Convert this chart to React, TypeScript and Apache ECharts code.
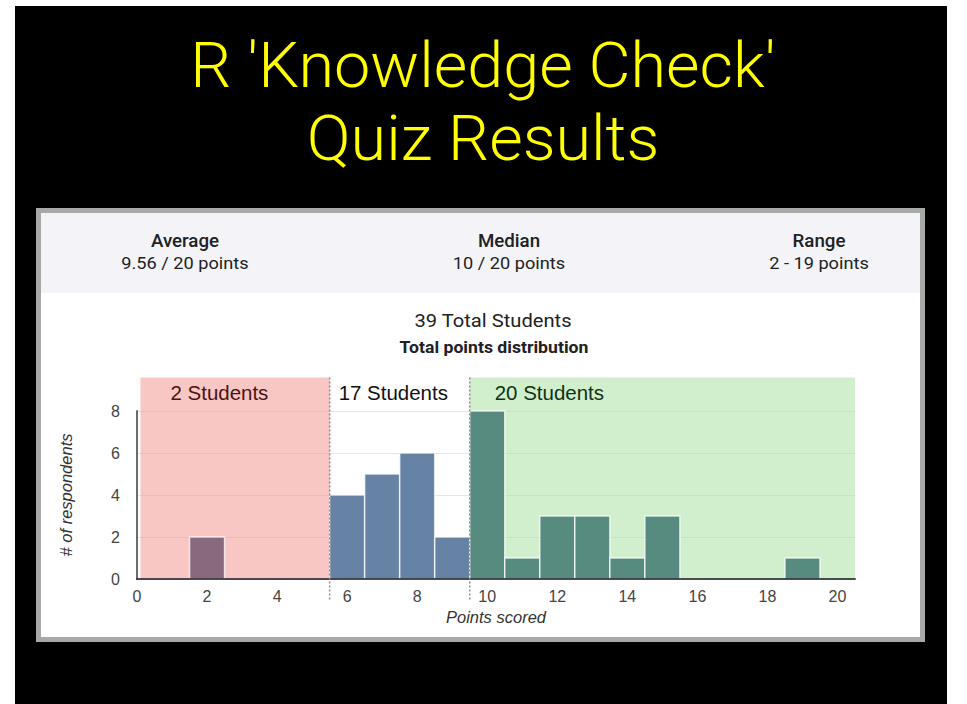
import React, { useEffect, useRef } from 'react';
import * as echarts from 'echarts';

// ---- data ----
const titleLines = ["R 'Knowledge Check'", 'Quiz Results'];
const statLabels = ['Average', 'Median', 'Range'];
const statValues = ['9.56 / 20 points', '10 / 20 points', '2 - 19 points'];
const chartTitle = '39 Total Students';
const chartSubtitle = 'Total points distribution';
const xAxisName = 'Points scored';
const yAxisName = '# of respondents';

const scores = [2, 6, 7, 8, 9, 10, 11, 12, 13, 14, 15, 19];
const counts = [2, 4, 5, 6, 2, 8, 1, 3, 3, 1, 3, 1];

const bandStarts = [0.1, 5.5, 9.5];
const bandEnds = [5.5, 9.5, 20.5];
const bandLabels = ['2 Students', '17 Students', '20 Students'];
const bandTop = 9.6;
const dividerXs = [5.5, 9.5];
const dividerBottom = -1;

const xMin = 0;
const xMax = 20.5;
const xInterval = 2;
const yMin = 0;
const yMax = 8;
const yInterval = 2;

// ---- styles ----
const bandFills = ['rgba(241,141,135,0.5)', 'rgba(255,255,255,0)', 'rgba(163,221,155,0.5)'];
const bandTextColors = ['#4a1414', '#111111', '#0f3312'];
const bandTextPad = [30, 9, 25];
const barColors = ['#886a7e', '#6683a6', '#578b80'];
const chartFont = '"Liberation Sans", Arial, sans-serif';
const headFont = 'Roboto, "Liberation Sans", sans-serif';
const SX = 1.07;

function groupOf(s: number) {
  return bandStarts.findIndex((b, k) => s >= b && s < bandEnds[k]);
}

function txt(text: string, x: number, y: number, size: number, weight: any, color: string, family: string, scaleX = 1) {
  return {
    type: 'text',
    x,
    y,
    scaleX,
    z: 10,
    silent: true,
    style: {
      text,
      fill: color,
      fontSize: size,
      fontWeight: weight,
      fontFamily: family,
      align: 'center',
      verticalAlign: 'middle',
      textAlign: 'center',
      textVerticalAlign: 'middle',
    },
  };
}

export default function App() {
  const ref = useRef<HTMLDivElement>(null);
  useEffect(() => {
    if (!ref.current) return;
    const chart = echarts.init(ref.current, undefined, { renderer: 'svg' });
    const statX = [185, 509, 819];
    const graphics: any[] = [
      { type: 'rect', z: -10, silent: true, shape: { x: 15, y: 6, width: 932, height: 698 }, style: { fill: '#000' } },
      { type: 'rect', z: -9, silent: true, shape: { x: 36, y: 208, width: 889, height: 434 }, style: { fill: '#a6a9a6' } },
      { type: 'rect', z: -8, silent: true, shape: { x: 41, y: 213, width: 879, height: 424 }, style: { fill: '#ffffff' } },
      { type: 'rect', z: -7, silent: true, shape: { x: 41, y: 213, width: 879, height: 80 }, style: { fill: '#f4f4f8' } },
      txt(titleLines[0], 483, 66, 63.5, 300, '#ffff00', headFont, 1.02),
      txt(titleLines[1], 483, 139, 63.5, 300, '#ffff00', headFont, 1.02),
      txt(chartTitle, 493, 321, 18.5, 'normal', '#202124', headFont, 1.09),
      txt(chartSubtitle, 494, 347, 16.5, 'bold', '#202124', headFont, SX),
    ];
    statLabels.forEach((l, i) => {
      graphics.push(txt(l, statX[i], 241, 17.5, 500, '#202124', headFont, SX));
      graphics.push(txt(statValues[i], statX[i], 263, 17, 'normal', '#202124', headFont, SX));
    });

    const option: any = {
      animation: false,
      backgroundColor: '#ffffff',
      graphic: graphics,
      grid: { left: 137, right: 112, top: 411, bottom: 125, containLabel: false, outerBoundsMode: 'none' },
      xAxis: {
        type: 'value',
        min: xMin,
        max: xMax,
        interval: xInterval,
        z: 5,
        name: xAxisName,
        nameLocation: 'middle',
        nameGap: 29,
        nameTextStyle: { fontStyle: 'italic', fontSize: 16.5, color: '#333', fontFamily: chartFont },
        axisLine: { show: true, onZero: false, lineStyle: { color: 'rgba(35,35,45,0.8)', width: 2 } },
        axisTick: { show: false },
        splitLine: { show: false },
        axisLabel: {
          color: '#444',
          fontSize: 16,
          fontFamily: chartFont,
          margin: 9,
          formatter: (v: number) => (v % xInterval === 0 ? String(v) : ''),
        },
      },
      yAxis: {
        type: 'value',
        min: yMin,
        max: yMax,
        interval: yInterval,
        name: yAxisName,
        nameLocation: 'middle',
        nameRotate: 90,
        nameGap: 63,
        nameTextStyle: { fontStyle: 'italic', fontSize: 16.5, color: '#333', fontFamily: chartFont },
        axisLine: { show: true, lineStyle: { color: '#6b6b6b', width: 2 } },
        axisTick: { show: false },
        splitLine: { show: true, lineStyle: { color: '#e6e6e6', width: 1 } },
        axisLabel: { color: '#444', fontSize: 16, fontFamily: chartFont, margin: 17 },
      },
      series: [
        {
          type: 'custom',
          name: 'bands',
          z: 1,
          clip: false,
          silent: true,
          data: bandStarts.map((s, i) => [s, bandEnds[i]]),
          renderItem: (params: any, api: any) => {
            const i = params.dataIndex;
            const tl = api.coord([api.value(0), bandTop]);
            const br = api.coord([api.value(1), 0]);
            return {
              type: 'group',
              children: [
                {
                  type: 'rect',
                  shape: { x: tl[0], y: tl[1], width: br[0] - tl[0], height: br[1] - tl[1] },
                  style: { fill: bandFills[i] },
                },
                {
                  type: 'text',
                  x: tl[0] + bandTextPad[i],
                  y: tl[1] + 16,
                  scaleX: 1.05,
                  style: {
                    text: bandLabels[i],
                    fill: bandTextColors[i],
                    fontSize: 19.5,
                    fontFamily: chartFont,
                    align: 'left',
                    verticalAlign: 'middle',
                    textAlign: 'left',
                    textVerticalAlign: 'middle',
                  },
                },
              ],
            };
          },
        },
        {
          type: 'custom',
          name: 'bars',
          z: 3,
          clip: false,
          silent: true,
          data: scores.map((s, i) => [s, counts[i]]),
          renderItem: (params: any, api: any) => {
            const s = api.value(0);
            const v = api.value(1);
            const p0 = api.coord([s - 0.5, v]);
            const p1 = api.coord([s + 0.5, 0]);
            return {
              type: 'rect',
              shape: { x: p0[0], y: p0[1], width: p1[0] - p0[0], height: p1[1] - p0[1] },
              style: { fill: barColors[groupOf(s)], stroke: 'rgba(255,255,255,0.75)', lineWidth: 1.5 },
            };
          },
        },
        {
          type: 'custom',
          name: 'dividers',
          z: 6,
          clip: false,
          silent: true,
          data: dividerXs.map((x) => [x, 0]),
          renderItem: (params: any, api: any) => {
            const x = api.value(0);
            const a = api.coord([x, bandTop]);
            const b = api.coord([x, dividerBottom]);
            return {
              type: 'line',
              shape: { x1: a[0], y1: a[1], x2: b[0], y2: b[1] },
              style: { stroke: '#8a8a8a', lineWidth: 1.5, lineDash: [2, 2] },
            };
          },
        },
      ],
    };
    chart.setOption(option);
    return () => chart.dispose();
  }, []);
  return (
    <div
      ref={ref}
      style={{ position: 'fixed', left: 0, top: 0, width: 967, height: 704 }}
    />
  );
}
